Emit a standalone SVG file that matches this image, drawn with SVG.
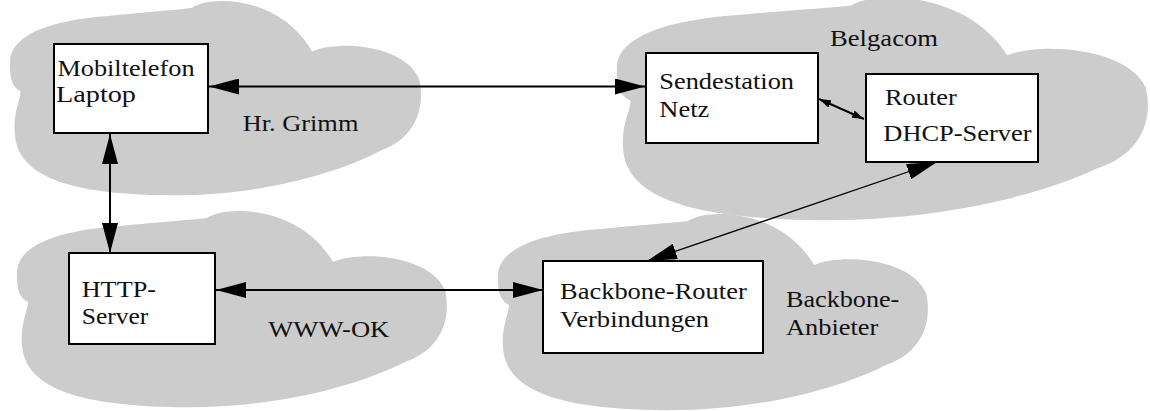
<svg xmlns="http://www.w3.org/2000/svg" width="1150" height="411" viewBox="0 0 1150 411">
<style>
  .cloud { fill: #cccccc; stroke: none; }
  .box { fill: #ffffff; stroke: #000000; stroke-width: 2; }
  .t { font-family: "Liberation Serif", "Times New Roman", serif; font-size: 24px; fill: #111111; }
  .c { stroke: #000000; fill: none; }
  .thick { stroke-width: 2; }
  .thin { stroke-width: 1.3; }
</style>
<defs>
  <path id="cloudShape" d="M 0,60 C -2,30 43,15 103,11 C 143,7 173,5 190,3 C 208,-10 283,-10 316,47 C 343,35 413,40 428,75 C 435,105 423,135 388,147 C 333,175 243,195 153,192 C 73,190 8,177 5,130 C 3,110 11,95 11,87 C 1,82 0,72 0,60 Z"/>
  <marker id="big" viewBox="0 0 30 16" refX="30" refY="8" markerWidth="30" markerHeight="16" markerUnits="userSpaceOnUse" orient="auto-start-reverse">
    <path d="M0,0 L30,8 L0,16 Z" fill="#000"/>
  </marker>
  <marker id="small" viewBox="0 0 12 8" refX="12" refY="4" markerWidth="12" markerHeight="8" markerUnits="userSpaceOnUse" orient="auto-start-reverse">
    <path d="M0,0 L12,4 L0,8 Z" fill="#000"/>
  </marker>
</defs>

<g id="clouds">
  <use href="#cloudShape" class="cloud" transform="translate(10,5) scale(0.956,0.99)"/>
  <use href="#cloudShape" class="cloud" transform="translate(617,2) scale(1.235,1.135)"/>
  <use href="#cloudShape" class="cloud" transform="translate(17,215)"/>
  <use href="#cloudShape" class="cloud" transform="translate(498,218)"/>
</g>

<g id="cloud-labels">
  <text class="t" x="242.7" y="131" textLength="115.7" lengthAdjust="spacingAndGlyphs">Hr. Grimm</text>
  <text class="t" x="830" y="46" textLength="108" lengthAdjust="spacingAndGlyphs">Belgacom</text>
  <text class="t" x="268.3" y="336.7" textLength="121" lengthAdjust="spacingAndGlyphs">WWW-OK</text>
  <text class="t" x="786" y="306.7" textLength="113.3" lengthAdjust="spacingAndGlyphs">Backbone-</text>
  <text class="t" x="786" y="335" textLength="92.3" lengthAdjust="spacingAndGlyphs">Anbieter</text>
</g>

<g id="connectors">
  <line class="c thick" x1="209" y1="86.5" x2="645" y2="86.5" marker-start="url(#big)" marker-end="url(#big)"/>
  <line class="c thick" x1="110" y1="134" x2="110" y2="253" marker-start="url(#big)" marker-end="url(#big)"/>
  <line class="c thick" x1="216" y1="290" x2="543" y2="290" marker-start="url(#big)" marker-end="url(#big)"/>
  <line class="c thick" x1="819" y1="99" x2="864" y2="119" marker-start="url(#small)" marker-end="url(#small)"/>
  <line class="c thin" x1="937" y1="162" x2="647" y2="261" marker-start="url(#big)" marker-end="url(#big)"/>
</g>

<g id="node-mobil">
  <rect class="box" x="54" y="44" width="154" height="89"/>
  <text class="t" x="57.5" y="76" textLength="137" lengthAdjust="spacingAndGlyphs">Mobiltelefon</text>
  <text class="t" x="56" y="102" textLength="80" lengthAdjust="spacingAndGlyphs">Laptop</text>
</g>

<g id="node-sendestation">
  <rect class="box" x="646" y="53" width="172" height="90"/>
  <text class="t" x="659.3" y="89" textLength="134.7" lengthAdjust="spacingAndGlyphs">Sendestation</text>
  <text class="t" x="659.3" y="117.3" textLength="50" lengthAdjust="spacingAndGlyphs">Netz</text>
</g>

<g id="node-router">
  <rect class="box" x="866" y="74" width="172" height="88"/>
  <text class="t" x="885" y="105" textLength="71.7" lengthAdjust="spacingAndGlyphs">Router</text>
  <text class="t" x="883.3" y="141" textLength="148.3" lengthAdjust="spacingAndGlyphs">DHCP-Server</text>
</g>

<g id="node-http">
  <rect class="box" x="69" y="253" width="146" height="91"/>
  <text class="t" x="81.7" y="296.7" textLength="74.3" lengthAdjust="spacingAndGlyphs">HTTP-</text>
  <text class="t" x="81.7" y="324" textLength="66.7" lengthAdjust="spacingAndGlyphs">Server</text>
</g>

<g id="node-backbone">
  <rect class="box" x="543" y="261" width="220" height="92"/>
  <text class="t" x="560" y="299" textLength="186.7" lengthAdjust="spacingAndGlyphs">Backbone-Router</text>
  <text class="t" x="560" y="327.3" textLength="149" lengthAdjust="spacingAndGlyphs">Verbindungen</text>
</g>
</svg>
